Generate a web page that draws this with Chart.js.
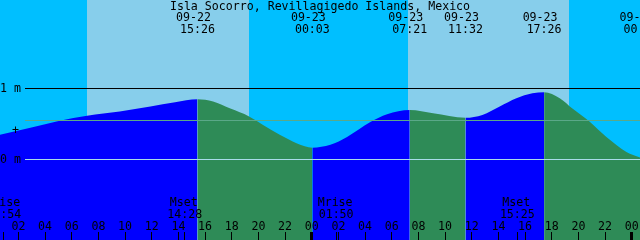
<!DOCTYPE html>
<html>
<head>
<meta charset="utf-8">
<script src="https://cdn.jsdelivr.net/npm/chart.js@4/dist/chart.umd.min.js"></script>
<style>
  body { margin: 0; background: #00bfff; }
  #wrap { width: 640px; height: 240px; }
</style>
</head>
<body>
<div id="wrap"><canvas id="tideChart" width="640" height="240"></canvas></div>
<script>
// hours relative to 09-23 00:00
var tideHours = [-23.38, -21.1, -18.9, -16.85, -14.4, -12.1, -10.25, -8.57, -7.4, -6.1, -4.7, -3.65, -2.4, -1.1, 0.05,
  1.4, 2.65, 4.4, 5.65, 7.35, 9.1, 11.53, 12.8, 14.1, 15.35, 16.55, 17.43, 18.6, 19.55, 20.85, 22.1, 23.6, 24.62];

var tideHeights = [0.34, 0.44, 0.54, 0.61, 0.67, 0.74, 0.80, 0.84, 0.81, 0.71, 0.60, 0.48, 0.34, 0.22, 0.16,
  0.20, 0.31, 0.52, 0.63, 0.69, 0.645, 0.58, 0.62, 0.74, 0.855, 0.925, 0.94, 0.855, 0.71, 0.525, 0.31, 0.10, 0.02];

// high / low tide events shown at the top
var eventHours = [-8.57, 0.05, 7.35, 11.53, 17.43, 24.7];
var eventDates = ['09-22', '09-23', '09-23', '09-23', '09-23', '09-24'];
var eventTimes = ['15:26', '00:03', '07:21', '11:32', '17:26', '00:42'];

// sunrise / sunset pairs (day bands)
var dayStart = [-16.85, 7.22];
var dayEnd = [-4.70, 19.30];

// moon events shown at the bottom
var moonHours = [-23.1, -9.53, 1.83, 15.42];
var moonNames = ['Mrise', 'Mset', 'Mrise', 'Mset'];
var moonTimes = ['00:54', '14:28', '01:50', '15:25'];

var tickHours = [-22, -20, -18, -16, -14, -12, -10, -8, -6, -4, -2, 0, 2, 4, 6, 8, 10, 12, 14, 16, 18, 20, 22, 24];
var tickLabels = ['02', '04', '06', '08', '10', '12', '14', '16', '18', '20', '22', '00',
  '02', '04', '06', '08', '10', '12', '14', '16', '18', '20', '22', '00'];

var levelOne = 1;
var levelZero = 0;
var levelMsl = 0.55;
var levelMark = 0.39;

var title = 'Isla Socorro, Revillagigedo Islands, Mexico';

var monoFont = '11.6px "DejaVu Sans Mono", monospace';

var tidePoints = tideHours.map(function (h, i) { return { x: h, y: tideHeights[i] }; });

// Sky bands behind the curve
var skyPlugin = {
  id: 'sky',
  beforeDatasetsDraw: function (chart) {
    var ctx = chart.ctx;
    var xs = chart.scales.x;
    var area = chart.chartArea;

    ctx.save();
    ctx.fillStyle = '#00bfff';
    ctx.fillRect(area.left, area.top, area.right - area.left, area.bottom - area.top);
    ctx.fillStyle = '#87ceeb';
    for (var i = 0; i < dayStart.length; i++) {
      var x0 = Math.round(xs.getPixelForValue(dayStart[i]));
      var x1 = Math.round(xs.getPixelForValue(dayEnd[i]));
      ctx.fillRect(x0, area.top, x1 - x0, area.bottom - area.top);
    }
    ctx.restore();
  }
};

// Level lines, labels and ticks on top
var overlayPlugin = {
  id: 'overlay',
  afterDatasetsDraw: function (chart) {
    var ctx = chart.ctx;
    var xs = chart.scales.x;
    var ys = chart.scales.y;
    var i, x;

    ctx.save();

    ctx.fillStyle = '#000000';
    ctx.fillRect(25, Math.round(ys.getPixelForValue(levelOne)), 615, 1);
    ctx.fillStyle = '#5aa888';
    ctx.fillRect(25, Math.round(ys.getPixelForValue(levelMsl)), 615, 1);
    ctx.fillStyle = '#a8dcea';
    ctx.fillRect(25, Math.round(ys.getPixelForValue(levelZero)), 615, 1);

    ctx.font = monoFont;
    ctx.fillStyle = '#000000';
    ctx.textBaseline = 'alphabetic';

    ctx.textAlign = 'center';
    ctx.fillText(title, 320, 10);

    ctx.textAlign = 'left';
    for (i = 0; i < eventHours.length; i++) {
      x = xs.getPixelForValue(eventHours[i]);
      ctx.fillText(eventDates[i], x - 21.5, 21);
      ctx.fillText(eventTimes[i], x - 17.5, 33);
    }

    ctx.fillText('1 m', 0, Math.round(ys.getPixelForValue(levelOne)) + 4);
    ctx.fillText('0 m', 0, Math.round(ys.getPixelForValue(levelZero)) + 4);
    ctx.textAlign = 'center';
    ctx.textBaseline = 'middle';
    ctx.fillText('+', 15.5, ys.getPixelForValue(levelMark));
    ctx.textBaseline = 'alphabetic';

    for (i = 0; i < moonHours.length; i++) {
      x = xs.getPixelForValue(moonHours[i]);
      ctx.fillText(moonNames[i], x - 1, 206);
      ctx.fillText(moonTimes[i], x, 218);
      ctx.fillRect(Math.floor(x), 232, 1, 8);
    }

    for (i = 0; i < tickHours.length; i++) {
      x = xs.getPixelForValue(tickHours[i]);
      ctx.fillText(tickLabels[i], x, 230);
      if (tickLabels[i] === '00') {
        ctx.fillRect(Math.round(x) - 2, 232, 3, 8);
      } else {
        ctx.fillRect(Math.floor(x), 232, 1, 8);
      }
    }

    ctx.restore();
  }
};

var tideChart = new Chart(document.getElementById('tideChart'), {

  type: 'line',

  data: {
    datasets: [
      {
        data: tidePoints,

        fill: 'start',

        cubicInterpolationMode: 'monotone',

        borderColor: 'rgba(0,0,0,0)',

        borderWidth: 0,

        pointRadius: 0,

        segment: {
          backgroundColor: function (ctx) {
            return ctx.p1.parsed.y < ctx.p0.parsed.y ? '#2e8b57' : '#0000ff';
          }
        }
      }
    ]
  },

  options: {
    responsive: false,

    animation: false,

    layout: { padding: 0 },

    scales: {
      x: { type: 'linear', display: false, min: -23.38, max: 24.62 },
      y: { display: false, min: -81 / 71, max: 159 / 71 }
    },

    plugins: {
      legend: { display: false },
      tooltip: { enabled: false }
    }
  },

  plugins: [skyPlugin, overlayPlugin]
});
</script>
</body>
</html>
